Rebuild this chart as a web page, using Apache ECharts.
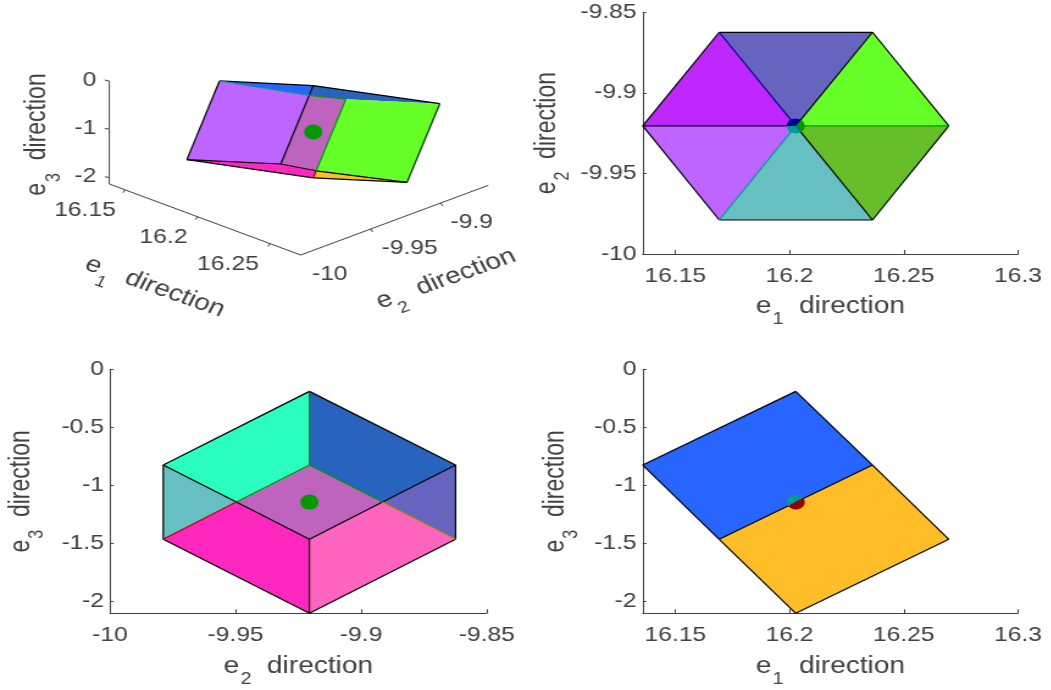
<!DOCTYPE html>
<html>
<head>
<meta charset="utf-8">
<style>
html,body{margin:0;padding:0;background:#fff;overflow:hidden}
#chart{width:861.5px;height:690px;transform:scale(1.22,1);transform-origin:0 0}
</style>
<script src="https://cdn.jsdelivr.net/npm/echarts@6/dist/echarts.min.js"></script>
</head>
<body>
<div id="chart"></div>
<script>
const SX = 1.22;
const FONT = '"Liberation Sans", Arial, sans-serif';
const TXT = '#404040';

const e1Ticks = [16.15, 16.2, 16.25, 16.3];
const e1TicksBox = [16.15, 16.2, 16.25];
const e2TicksTop = [-10, -9.95, -9.9, -9.85];
const e2TicksBox = [-10, -9.95, -9.9];
const e3TicksFine = [-2, -1.5, -1, -0.5, 0];
const e3TicksBox = [-2, -1, 0];
const e1Range = [16.1357, 16.3];
const e2Range = [-10, -9.85];
const e3Range = [-2.1, 0];
const e1BoxRange = [16.1392, 16.2712];
const e2BoxRange = [-10, -9.866];
const e3BoxRange = [-2.13, 0];

// 3D view (top left): corners of the solid in e1, e2, e3
const boxVerts = {
  T: [16.2027, -9.9206, -0.19], A: [16.1357, -9.9206, -0.824], C: [16.2363, -9.8624, -0.824],
  H: [16.2363, -9.9788, -0.824], D: [16.2697, -9.9206, -1.463], F: [16.1692, -9.9788, -1.463],
  I: [16.1692, -9.8624, -1.463], E: [16.2027, -9.9206, -2.1],
  G: [16.2069, -9.9279, -0.269], J: [16.1997, -9.9154, -2.043]
};
const boxFaces = [['A','T','G'],['T','C','I','G'],['F','H','J','E'],['J','D','E'],['A','G','H','F'],['G','I','J','H'],['I','C','D','J']];
const boxColors = ['#2864FF','#2864BE','#FF28BE','#FFBE28','#BE64FF','#BE64BE','#66FF28'];
const boxEdges = [['A','T'],['T','C'],['C','D'],['D','J'],['J','E'],['E','F'],['F','A'],['T','G'],['G','H'],['F','H'],['H','J'],['G','I'],['I','J'],['A','G'],['E','D']];
const boxEdgeColors = ['#000','#000','#003300','#000','#990000','#000','#000','#000','#000','#000','#000','#009900','#009900','#009999','#000'];

// e1-e2 view (top right)
const hexVerts = {
  L: [16.1357, -9.9205], UL: [16.1692, -9.8624], UR: [16.2363, -9.8624], R: [16.2697, -9.9205],
  LR: [16.2363, -9.9789], LL: [16.1692, -9.9789], O: [16.2027, -9.9205]
};
const hexFaces = [['O','UL','UR'],['O','L','UL'],['O','UR','R'],['O','L','LL'],['O','LL','LR'],['O','LR','R']];
const hexColors = ['#6664BE','#BE28FF','#66FF28','#BE64FF','#66BFC0','#66BE28'];
const hexEdges = [['L','UL'],['UL','UR'],['UR','R'],['R','LR'],['LR','LL'],['LL','L'],['O','UL'],['O','UR'],['O','R'],['O','LR'],['O','LL'],['O','L']];
const hexEdgeColors = ['#000','#000','#000','#000','#000','#000','#000099','#000','#009900','#000','#009999','#000'];

// e2-e3 view (bottom left)
const e23Verts = {
  T: [-9.9206, -0.19], LU: [-9.9788, -0.824], RU: [-9.8624, -0.824], LB: [-9.9788, -1.463], RB: [-9.8624, -1.463],
  B: [-9.9206, -2.1], DT: [-9.9206, -0.824], DB: [-9.9206, -1.463], DL: [-9.9497, -1.143], DR: [-9.8915, -1.143]
};
const e23Faces = [['T','LU','DL','DT'],['T','RU','DR','DT'],['LU','LB','DL'],['RU','RB','DR'],['LB','DL','DB','B'],['RB','DR','DB','B'],['DT','DR','DB','DL']];
const e23Colors = ['#2BFFC0','#2864BE','#66BFC0','#6664BE','#FF28BE','#FF64BE','#BE64BE'];
const e23Edges = [['T','LU'],['T','RU'],['LU','LB'],['RU','RB'],['LB','B'],['RB','B'],['T','DT'],['DB','B'],['LU','DL'],['DL','DB'],['RU','DR'],['DR','DB'],['DT','DL'],['DT','DR'],['LB','DL'],['RB','DR']];
const e23EdgeColors = ['#000','#000','#000','#000','#000','#000','#007700','#000','#000','#000','#000','#000','#009900','#009900','#BB0000','#AA8800'];

// e1-e3 view (bottom right)
const e13Verts = {
  T: [16.2027, -0.19], L: [16.1357, -0.824], M: [16.2363, -0.824], N: [16.1692, -1.463], R: [16.2697, -1.463], B: [16.2027, -2.1]
};
const e13Faces = [['T','M','N','L'],['M','R','B','N']];
const e13Colors = ['#2864FF','#FFBE28'];
const e13Edges = [['T','M'],['M','R'],['R','B'],['B','N'],['N','L'],['L','T'],['N','M']];
const e13EdgeColors = ['#000','#000','#000','#000','#000','#000','#000'];

// the point marked in each view
const pointBox = [16.2027, -9.9206, -1.15];
const pointE12 = [16.2027, -9.9205];
const pointE23 = [-9.9206, -1.143];
const pointE13 = [16.2027, -1.143];
const wedgesBox = [[0, 360, '#009900']];
const wedgesE12 = [[-180, -52.5, '#000099'], [-52.5, 52.5, '#009900'], [52.5, 180, '#009999']];
const wedgesE23 = [[0, 360, '#009900']];
const wedgesE13 = [[-214.5, -34.5, '#009999'], [-34.5, 145.5, '#990000']];

function project(p) {
  const d1 = p[0] - 16.1357, d2 = p[1] + 10, d3 = p[2] + 2.1;
  return [111 + 1400 * d1 + 1366 * d2, 183.7 + 526 * d1 - 518 * d2 - 48.3 * d3];
}
// the box edges carry their own slightly different scale in the source view
const axisE1 = t => [109.3 + 1450 * (t - 16.1392), 184 + 538 * (t - 16.1392)];
const axisE2 = t => [300.7 + 1400 * (t + 10), 255 - 520 * (t + 10)];
const axisE3 = t => [109.3, 177.7 - 48.35 * (t + 2)];
const same = p => p;

function facesSeries(g, verts, faces, colors, map) {
  return {
    type: 'custom', coordinateSystem: 'cartesian2d', xAxisIndex: g, yAxisIndex: g, silent: true, clip: false,
    data: faces.map(f => map(verts[f[0]])),
    renderItem: (params, api) => ({
      type: 'polygon',
      shape: { points: faces[params.dataIndex].map(n => api.coord(map(verts[n]))) },
      style: { fill: colors[params.dataIndex], stroke: null }
    })
  };
}
function edgesSeries(g, verts, edges, colors, map) {
  return {
    type: 'custom', coordinateSystem: 'cartesian2d', xAxisIndex: g, yAxisIndex: g, silent: true, clip: false,
    data: edges.map(e => map(verts[e[0]])),
    renderItem: (params, api) => {
      const e = edges[params.dataIndex];
      const a = api.coord(map(verts[e[0]])), b = api.coord(map(verts[e[1]]));
      return { type: 'line', shape: { x1: a[0], y1: a[1], x2: b[0], y2: b[1] },
        style: { stroke: colors[params.dataIndex], lineWidth: 1.2 } };
    }
  };
}
function dotSeries(g, point, wedges, map) {
  return {
    type: 'custom', coordinateSystem: 'cartesian2d', xAxisIndex: g, yAxisIndex: g, silent: true, clip: false,
    data: wedges.map(() => map(point)),
    renderItem: (params, api) => {
      const c = api.coord(map(point)), w = wedges[params.dataIndex];
      return { type: 'sector',
        shape: { cx: c[0], cy: c[1], r0: 0, r: 7.5, startAngle: w[0] * Math.PI / 180, endAngle: w[1] * Math.PI / 180, clockwise: true },
        style: { fill: w[2] } };
    }
  };
}

const richName = {
  n: { fontSize: 23, fontFamily: FONT, color: TXT },
  s: { fontSize: 16, fontFamily: FONT, color: TXT, padding: [26, 0, 0, 1], verticalAlign: 'bottom' }
};
const richBox = {
  n: { fontSize: 23, fontFamily: FONT, fill: TXT },
  s: { fontSize: 16, fontFamily: FONT, fill: TXT, padding: [26, 0, 0, 1], verticalAlign: 'bottom' }
};
function nameOf(i) { return '{n|e}{s|' + i + '}{n|  direction}'; }

function xAxis(g, range, ticks, i) {
  return { gridIndex: g, type: 'value', min: range[0], max: range[1], position: 'bottom',
    name: nameOf(i), nameLocation: 'middle', nameGap: 32, nameTextStyle: { rich: richName },
    splitLine: { show: false }, axisLine: { onZero: false, lineStyle: { color: TXT, width: 1 } },
    axisTick: { inside: true, length: 4, customValues: ticks, lineStyle: { color: TXT } },
    axisLabel: { customValues: ticks, margin: 12.5, fontSize: 20.2, fontFamily: FONT, color: TXT, formatter: v => String(v) } };
}
function yAxis(g, range, ticks, i, gap) {
  return { gridIndex: g, type: 'value', min: range[0], max: range[1], position: 'left',
    name: nameOf(i), nameLocation: 'middle', nameGap: gap, nameTextStyle: { rich: richName },
    splitLine: { show: false }, axisLine: { onZero: false, lineStyle: { color: TXT, width: 1 } },
    axisTick: { inside: true, length: 3, customValues: ticks, lineStyle: { color: TXT } },
    axisLabel: { customValues: ticks, margin: 5, fontSize: 20.2, fontFamily: FONT, color: TXT, formatter: v => String(v) } };
}
function gridAt(l, t, w, h) { return { left: l / SX, top: t, width: w / SX, height: h, containLabel: false }; }

// axes of the 3D view
const boxSegs = [
  [axisE1(e1BoxRange[0]), axisE1(e1BoxRange[1])],
  [axisE2(e2BoxRange[0]), axisE2(e2BoxRange[1])],
  [axisE3(e3BoxRange[0]), axisE3(e3BoxRange[1])]
].concat(e1TicksBox.map(t => { const p = axisE1(t); return [p, [p[0] - 2, p[1] + 3]]; }))
 .concat(e2TicksBox.slice(1).map(t => { const p = axisE2(t); return [p, [p[0] + 2, p[1] + 3]]; }))
 .concat(e3TicksBox.map(t => { const p = axisE3(t); return [p, [p[0] - 4.5, p[1] - 1]]; }));

const e1LabelDx = [-40, -34, -42];
const e2LabelDx = [29, 39, 31];
const boxLabels = e1TicksBox.map((t, i) => ({ text: String(t), at: axisE1(t), dx: e1LabelDx[i], dy: 20.5, align: 'center' }))
  .concat(e2TicksBox.map((t, i) => ({ text: String(t), at: axisE2(t), dx: e2LabelDx[i], dy: 19, align: 'center' })))
  .concat(e3TicksBox.map(t => ({ text: String(t), at: axisE3(t), dx: -13, dy: -1, align: 'right' })));

const boxTitles = [
  { i: 1, pos: [155, 287], rot: -23.1 },
  { i: 2, pos: [446, 279], rot: 23.1 },
  { i: 3, pos: [38, 134.5], rot: 90 }
];

const series = [
  {
    type: 'custom', coordinateSystem: 'cartesian2d', xAxisIndex: 0, yAxisIndex: 0, silent: true, clip: false,
    data: boxSegs.map(s => s[0]),
    renderItem: (params, api) => {
      const s = boxSegs[params.dataIndex];
      const a = api.coord(s[0]), b = api.coord(s[1]);
      return { type: 'line', shape: { x1: a[0], y1: a[1], x2: b[0], y2: b[1] }, style: { stroke: TXT, lineWidth: 1 } };
    }
  },
  {
    type: 'custom', coordinateSystem: 'cartesian2d', xAxisIndex: 0, yAxisIndex: 0, silent: true, clip: false,
    data: boxLabels.map(l => l.at),
    renderItem: (params, api) => {
      const l = boxLabels[params.dataIndex];
      const c = api.coord([l.at[0] + l.dx, l.at[1] + l.dy]);
      return { type: 'text', x: c[0], y: c[1],
        style: { text: l.text, fontSize: 20.2, fontFamily: FONT, fill: TXT, align: l.align, verticalAlign: 'middle' } };
    }
  },
  {
    type: 'custom', coordinateSystem: 'cartesian2d', xAxisIndex: 0, yAxisIndex: 0, silent: true, clip: false,
    data: boxTitles.map(t => t.pos),
    renderItem: (params, api) => {
      const t = boxTitles[params.dataIndex], c = api.coord(t.pos);
      return { type: 'text', x: c[0], y: c[1], rotation: t.rot * Math.PI / 180,
        style: { text: nameOf(t.i), rich: richBox, align: 'center', verticalAlign: 'middle' } };
    }
  },
  facesSeries(0, boxVerts, boxFaces, boxColors, project),
  edgesSeries(0, boxVerts, boxEdges, boxEdgeColors, project),
  dotSeries(0, pointBox, wedgesBox, project),
  facesSeries(1, hexVerts, hexFaces, hexColors, same),
  edgesSeries(1, hexVerts, hexEdges, hexEdgeColors, same),
  dotSeries(1, pointE12, wedgesE12, same),
  facesSeries(2, e23Verts, e23Faces, e23Colors, same),
  edgesSeries(2, e23Verts, e23Edges, e23EdgeColors, same),
  dotSeries(2, pointE23, wedgesE23, same),
  facesSeries(3, e13Verts, e13Faces, e13Colors, same),
  edgesSeries(3, e13Verts, e13Edges, e13EdgeColors, same),
  dotSeries(3, pointE13, wedgesE13, same)
];

const chart = echarts.init(document.getElementById('chart'), null, { renderer: 'canvas' });
chart.setOption({
  animation: false,
  backgroundColor: '#fff',
  grid: [
    { left: 0, top: 0, width: 1051 / SX, height: 690 },
    gridAt(642.7, 12.3, 375.3, 241.7),
    gridAt(110, 369.3, 376.7, 244),
    gridAt(642.7, 369.3, 375.3, 244)
  ],
  xAxis: [
    { gridIndex: 0, type: 'value', min: 0, max: 1051, show: false },
    xAxis(1, e1Range, e1Ticks, 1),
    xAxis(2, e2Range, e2TicksTop, 2),
    xAxis(3, e1Range, e1Ticks, 1)
  ],
  yAxis: [
    { gridIndex: 0, type: 'value', min: 0, max: 690, inverse: true, show: false },
    yAxis(1, e2Range, e2TicksTop, 2, 56.9),
    yAxis(2, e3Range, e3TicksFine, 3, 51.6),
    yAxis(3, e3Range, e3TicksFine, 3, 50.3)
  ],
  series: series
});
</script>
</body>
</html>
